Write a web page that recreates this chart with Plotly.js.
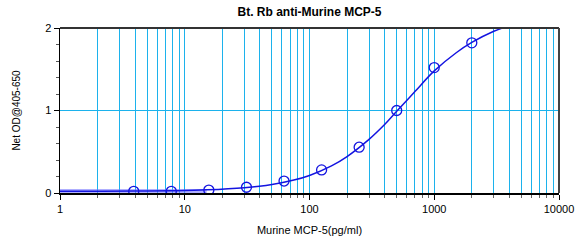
<!DOCTYPE html>
<html>
<head>
<meta charset="utf-8">
<script src="https://cdn.plot.ly/plotly-3.0.1.min.js"></script>
<style>html,body{margin:0;padding:0;background:#fff;}#chart{width:578px;height:245px;}</style>
</head>
<body>
<div id="chart"></div>
<script>
// Standards (measured points)
var stdX = [3.9, 7.8, 15.6, 31.25, 62.5, 125, 250, 500, 1000, 2000];
var stdY = [0.02, 0.02, 0.035, 0.07, 0.145, 0.28, 0.555, 1.0, 1.52, 1.82];
// Fitted curve
var curveX = [1, 2, 4, 8, 15, 30, 50, 75, 100, 150, 200, 300, 400, 500, 700, 1000, 1500, 2000, 3000, 4000, 5000];
var curveY = [0.02, 0.021, 0.023, 0.028, 0.038, 0.064, 0.103, 0.157, 0.213, 0.329, 0.442, 0.65, 0.83, 0.99, 1.23, 1.48, 1.70, 1.825, 1.96, 2.03, 2.08];
// Low-end band
var bandX = [1, 15];
var bandY = [0.025, 0.025];
// Axis ticks
var xTickVals = [1, 10, 100, 1000, 10000];
var xTickText = ["1", "10", "100", "1000", "10000"];
var yTickVals = [0, 1, 2];
var yTickText = ["0", "1", "2"];

var traces = [
  {x: bandX, y: bandY, mode: 'lines', line: {color: 'rgba(110,110,255,0.55)', width: 4}, hoverinfo: 'skip', showlegend: false},
  {x: curveX, y: curveY, mode: 'lines', line: {color: '#1414e0', width: 1.5, shape: 'spline'}, showlegend: false},
  {x: stdX, y: stdY, mode: 'markers', marker: {symbol: 'circle-open', size: 10, color: '#1414e0', line: {width: 1.3, color: '#1414e0'}}, showlegend: false}
];

var layout = {
  width: 578, height: 245,
  margin: {l: 60, r: 19, t: 28, b: 52},
  paper_bgcolor: '#fff', plot_bgcolor: '#fff',
  font: {family: 'Liberation Sans, Arial, sans-serif', color: '#000', size: 11},
  title: {text: '<b>Bt. Rb anti-Murine MCP-5</b>', font: {size: 12, family: 'Liberation Sans, Arial, sans-serif'}, x: 0.5, xanchor: 'center', y: 0.95, yanchor: 'middle', xref: 'paper'},
  xaxis: {
    type: 'log', range: [0, 4], tickvals: xTickVals, ticktext: xTickText,
    ticks: 'outside', ticklen: 5, tickcolor: '#000', showline: true, linecolor: '#000', linewidth: 1.5,
    showgrid: true, gridcolor: '#1cb2ec', gridwidth: 1, zeroline: false,
    minor: {dtick: 'D1', ticks: 'outside', ticklen: 3, tickcolor: '#666', showgrid: true, gridcolor: '#1cb2ec', gridwidth: 1},
    title: {text: 'Murine MCP-5(pg/ml)', font: {size: 11}, standoff: 12},
    tickfont: {size: 11}
  },
  yaxis: {
    range: [0, 2], tickvals: yTickVals, ticktext: yTickText,
    ticks: 'outside', ticklen: 5, tickcolor: '#000', showline: true, linecolor: '#000', linewidth: 1.5,
    showgrid: true, gridcolor: '#1cb2ec', zeroline: false,
    minor: {dtick: 0.2, ticks: 'outside', ticklen: 3, tickcolor: '#555', showgrid: false},
    title: {text: 'Net OD@405-650', font: {size: 10}, standoff: 22},
    tickfont: {size: 11}
  },
  shapes: [
    {type: 'line', xref: 'paper', yref: 'paper', x0: 0, x1: 1, y0: 1, y1: 1, line: {color: '#333', width: 2}},
    {type: 'line', xref: 'paper', yref: 'paper', x0: 1, x1: 1, y0: 0, y1: 1, line: {color: '#444', width: 2}}
  ]
};

Plotly.newPlot('chart', traces, layout, {displayModeBar: false, staticPlot: true});
</script>
</body>
</html>
